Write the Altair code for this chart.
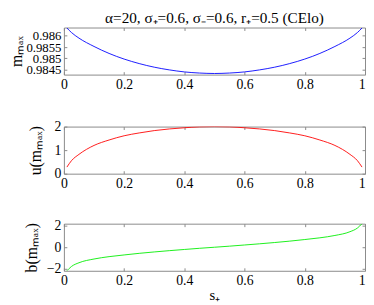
import altair as alt
import pandas as pd

# ---- data ----
s_vals = [0.01, 0.025, 0.05, 0.1, 0.15, 0.2, 0.25, 0.3, 0.35, 0.4, 0.45, 0.5,
          0.55, 0.6, 0.65, 0.7, 0.75, 0.8, 0.85, 0.9, 0.95, 0.975, 0.99]
m_max = [0.98635, 0.98615, 0.98590, 0.98553, 0.98522, 0.98497, 0.98477, 0.98461,
         0.98449, 0.98440, 0.98435, 0.98433, 0.98435, 0.98440, 0.98449, 0.98461,
         0.98477, 0.98497, 0.98522, 0.98553, 0.98590, 0.98615, 0.98635]
u_vals = [0.28, 0.55, 0.82, 1.20, 1.43, 1.61, 1.73, 1.83, 1.90, 1.95, 1.99, 2.00,
          1.99, 1.95, 1.90, 1.83, 1.73, 1.61, 1.43, 1.20, 0.82, 0.55, 0.28]
b_vals = [-2.2, -1.8, -1.45, -1.1, -0.88, -0.72, -0.57, -0.44, -0.32, -0.21, -0.1, 0.0,
          0.1, 0.21, 0.32, 0.44, 0.57, 0.72, 0.88, 1.1, 1.45, 1.8, 2.2]

x_ticks = [0, 0.2, 0.4, 0.6, 0.8, 1]
m_ticks = [0.9845, 0.985, 0.9855, 0.986]
u_ticks = [0, 1, 2]
b_ticks = [-2, 0, 2]
m_domain = [0.98428, 0.98637]
u_domain = [0, 2]
b_domain = [-2.2, 2.2]

title_text = "α=20, σ₊=0.6, σ₋=0.6, r₊=0.5 (CElo)"
m_title = "mₘₐₓ"
u_title = "u(mₘₐₓ)"
b_title = "b(mₘₐₓ)"
x_title = "s₊"

df = pd.DataFrame({"s": s_vals, "m": m_max, "u": u_vals, "b": b_vals})

FONT = "Liberation Serif"
GREY = "#8a8a8a"
W, H = 307, 48
TICK = dict(ticks=True, tickSize=3, tickColor=GREY, tickWidth=1, offset=-3)


def panel(field, color, domain, ticks, ytitle, tpad, fmt, lsize=14, xtitle=None):
    xs = alt.Scale(domain=[0, 1], nice=False, zero=False)
    ys = alt.Scale(domain=domain, nice=False, zero=False)
    main = alt.Chart(df).mark_line(color=color, strokeWidth=0.9, clip=True,
                                   interpolate="monotone").encode(
        x=alt.X("s:Q", scale=xs,
                axis=alt.Axis(values=x_ticks, format="~g", title=xtitle,
                              titlePadding=0, titleFontSize=15,
                              labelAlign={"condition": {"test": "datum.value == 1", "value": "right"},
                                          "value": "center"}, **TICK)),
        y=alt.Y(f"{field}:Q", scale=ys,
                axis=alt.Axis(values=ticks, format=fmt, title=ytitle, labelFontSize=lsize,
                              titlePadding=tpad, titleFontSize=16, **TICK)))
    mirror = alt.Chart(df).mark_line(opacity=0).encode(
        x=alt.X("s:Q", axis=alt.Axis(orient="top", values=x_ticks, labels=False,
                                     title=None, **TICK)),
        y=alt.Y(f"{field}:Q", axis=alt.Axis(orient="right", values=ticks, labels=False,
                                            title=None, **TICK)))
    return alt.layer(main, mirror).resolve_axis(x="independent", y="independent").properties(
        width=W, height=H)


p1 = panel("m", "#0000ff", m_domain, m_ticks, m_title, 1, ".4~f", lsize=13).properties(
    title=alt.TitleParams(title_text, font=FONT, fontSize=15.5, fontWeight="normal",
                          anchor="middle", color="black", offset=1))
p2 = panel("u", "#ff0000", u_domain, u_ticks, u_title, 11, "~g")
p3 = panel("b", "#00ee00", b_domain, b_ticks, b_title, 7, "~g", xtitle=x_title)

chart = alt.vconcat(p1, p2, p3, spacing=27).properties(
    padding={"left": 0, "top": -1, "right": 0, "bottom": 0},
    background="white"
).configure_axis(
    grid=False, domain=False,
    labelFont=FONT, labelFontSize=14, labelColor="black", labelPadding=3,
    labelOverlap=False, labelBound=False, labelFlush=False,
    titleFont=FONT, titleColor="black", titleFontWeight="normal",
).configure_view(
    stroke=GREY, strokeWidth=1
)

chart.save("out.html", embed_options={"renderer": "svg", "actions": False})
